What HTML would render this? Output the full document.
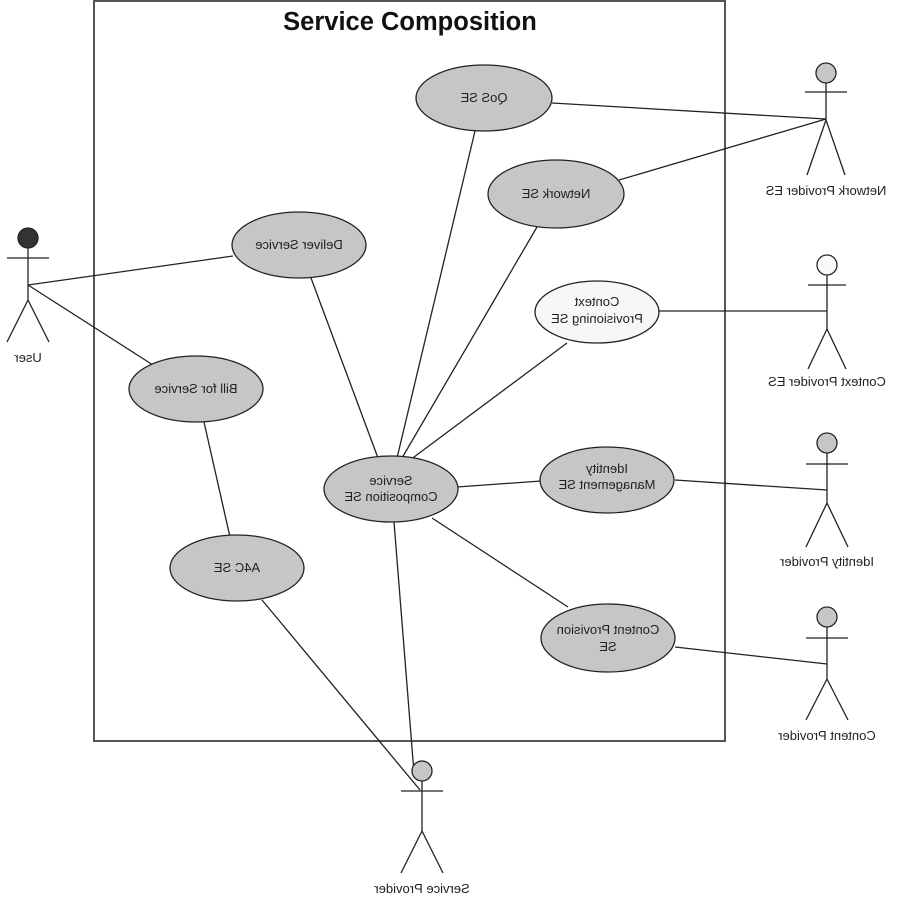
<!DOCTYPE html>
<html><head><meta charset="utf-8"><style>
html,body{margin:0;padding:0;background:#fff;}
svg{display:block;}
text{font-family:"Liberation Sans",Arial,sans-serif;font-size:13px;fill:#222;}
</style></head><body>
<svg width="900" height="900" viewBox="0 0 900 900" xmlns="http://www.w3.org/2000/svg">
<rect x="94" y="1" width="631" height="740" fill="none" stroke="#555" stroke-width="2"/>
<text x="410" y="30" text-anchor="middle" style="font-size:25.5px;font-weight:bold;fill:#111">Service Composition</text>

<g stroke="#222" stroke-width="1.3" fill="none">
<line x1="28" y1="285" x2="233" y2="256"/>
<line x1="28" y1="285" x2="153" y2="365"/>
<line x1="552" y1="103" x2="826" y2="119"/>
<line x1="619" y1="180" x2="826" y2="119"/>
<line x1="658" y1="311" x2="827" y2="311"/>
<line x1="675" y1="480" x2="827" y2="490"/>
<line x1="675" y1="647" x2="827" y2="664"/>
<line x1="397" y1="458" x2="475" y2="131"/>
<line x1="402" y1="458" x2="537" y2="227"/>
<line x1="410" y1="460" x2="567" y2="343"/>
<line x1="378" y1="458" x2="311" y2="278"/>
<line x1="457" y1="487" x2="541" y2="481"/>
<line x1="432" y1="518" x2="568" y2="607"/>
<line x1="394" y1="522" x2="414" y2="773"/>
<line x1="204" y1="422" x2="230" y2="537"/>
<line x1="262" y1="600" x2="420" y2="790"/>
</g>

<g stroke="#222" stroke-width="1.3" fill="#c6c6c6">
<ellipse cx="484" cy="98" rx="68" ry="33"/>
<ellipse cx="556" cy="194" rx="68" ry="34"/>
<ellipse cx="299" cy="245" rx="67" ry="33"/>
<ellipse cx="597" cy="312" rx="62" ry="31" fill="#f7f7f7"/>
<ellipse cx="196" cy="389" rx="67" ry="33"/>
<ellipse cx="391" cy="489" rx="67" ry="33"/>
<ellipse cx="607" cy="480" rx="67" ry="33"/>
<ellipse cx="237" cy="568" rx="67" ry="33"/>
<ellipse cx="608" cy="638" rx="67" ry="34"/>
</g>

<g stroke="#222" stroke-width="1.3" fill="#c6c6c6">
<g transform="translate(826,73)"><circle cx="0" cy="0" r="10"/><path d="M0 10V47M-21 19H21M0 47L-19 102M0 47L19 102" fill="none"/></g>
<g transform="translate(28,238)"><circle cx="0" cy="0" r="10" fill="#333"/><path d="M0 10V62M-21 20H21M0 62L-21 104M0 62L21 104" fill="none"/></g>
<g transform="translate(827,265)"><circle cx="0" cy="0" r="10" fill="#fafafa"/><path d="M0 10V64M-19 20H19M0 64L-19 104M0 64L19 104" fill="none"/></g>
<g transform="translate(827,443)"><circle cx="0" cy="0" r="10"/><path d="M0 10V60M-21 21H21M0 60L-21 104M0 60L21 104" fill="none"/></g>
<g transform="translate(827,617)"><circle cx="0" cy="0" r="10"/><path d="M0 10V62M-21 21H21M0 62L-21 103M0 62L21 103" fill="none"/></g>
<g transform="translate(422,771)"><circle cx="0" cy="0" r="10"/><path d="M0 10V60M-21 20H21M0 60L-21 102M0 60L21 102" fill="none"/></g>
</g>

<g text-anchor="middle">
<text transform="translate(484,102) scale(-1,1)">QoS SE</text>
<text transform="translate(556,198) scale(-1,1)">Network SE</text>
<text transform="translate(299,249) scale(-1,1)">Deliver Service</text>
<text transform="translate(597,306) scale(-1,1)">Context</text>
<text transform="translate(597,323) scale(-1,1)">Provisioning SE</text>
<text transform="translate(196,393) scale(-1,1)">Bill for Service</text>
<text transform="translate(391,485) scale(-1,1)">Service</text>
<text transform="translate(391,501) scale(-1,1)">Composition SE</text>
<text transform="translate(607,473) scale(-1,1)">Identity</text>
<text transform="translate(607,489) scale(-1,1)">Management SE</text>
<text transform="translate(237,572) scale(-1,1)">A4C SE</text>
<text transform="translate(608,634) scale(-1,1)">Content Provision</text>
<text transform="translate(608,651) scale(-1,1)">SE</text>
<text transform="translate(826,195) scale(-1,1)">Network Provider ES</text>
<text transform="translate(28,362) scale(-1,1)">User</text>
<text transform="translate(827,386) scale(-1,1)">Context Provider ES</text>
<text transform="translate(827,566) scale(-1,1)">Identity Provider</text>
<text transform="translate(827,740) scale(-1,1)">Content Provider</text>
<text transform="translate(422,893) scale(-1,1)">Service Provider</text>
</g>
</svg>
</body></html>
